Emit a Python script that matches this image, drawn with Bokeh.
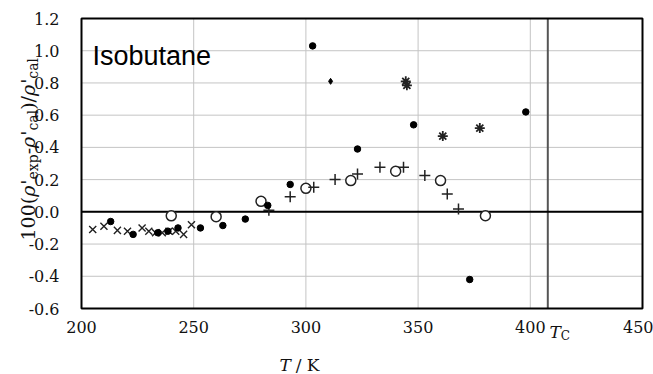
from bokeh.plotting import figure
from bokeh.models import Label, FixedTicker, NumeralTickFormatter, Range1d
from bokeh.embed import file_html
from bokeh.resources import INLINE
import math

# ---- data ----
filled_T = [213, 223, 234, 238.5, 243, 253, 263, 273, 283, 293, 303, 323, 348, 373, 398]
filled_v = [-0.06, -0.14, -0.13, -0.12, -0.10, -0.10, -0.085, -0.045, 0.04, 0.17, 1.03, 0.39, 0.54, -0.42, 0.62]

small_T = [311]
small_v = [0.81]

open_T = [240, 260, 280, 300, 320, 340, 360, 380]
open_v = [-0.025, -0.03, 0.065, 0.146, 0.194, 0.252, 0.194, -0.024]

plus_T = [283.5, 293, 303.5, 313, 323, 333, 343.5, 353, 363, 368]
plus_v = [0.01, 0.094, 0.152, 0.2, 0.235, 0.276, 0.276, 0.225, 0.111, 0.018]

x_T = [205, 210, 216, 220.5, 227, 230, 233, 236, 239, 242, 245.5, 249]
x_v = [-0.11, -0.09, -0.115, -0.12, -0.10, -0.12, -0.13, -0.13, -0.12, -0.12, -0.14, -0.08]

ast_T = [344.5, 345, 361, 377.5]
ast_v = [0.81, 0.785, 0.47, 0.52]

Tc = 407.8
x_ticks = [200, 250, 300, 350, 400, 450]
y_ticks = [-0.6, -0.4, -0.2, 0.0, 0.2, 0.4, 0.6, 0.8, 1.0, 1.2]
X_MIN, X_MAX = 200, 450
Y_MIN, Y_MAX = -0.6, 1.2

SERIF = "DejaVu Serif"
SANS = "Liberation Sans"
FS = 16

# plot box in page pixels
BOX_L, BOX_R, BOX_T, BOX_B = 81, 642, 18, 308
W, H = 653, 374
OFF = 0  # observed canvas offset on the page
PX_X = (BOX_R - BOX_L) / (X_MAX - X_MIN)
PX_Y = (BOX_B - BOX_T) / (Y_MAX - Y_MIN)


def sx(px):
    return X_MIN + (px - BOX_L) / PX_X


def sy(py):
    return Y_MAX - (py - BOX_T) / PX_Y


p = figure(width=W, height=H, output_backend="svg", toolbar_location=None,
           x_range=Range1d(sx(OFF), sx(OFF + W)), y_range=Range1d(sy(OFF + H), sy(OFF)),
           min_border_left=0, min_border_right=0, min_border_top=0, min_border_bottom=0)
p.background_fill_color = "white"
p.border_fill_color = "white"
p.outline_line_color = None
p.xgrid.visible = False
p.ygrid.visible = False

p.xaxis.fixed_location = Y_MIN
p.yaxis.fixed_location = X_MIN
for ax in (p.xaxis, p.yaxis):
    ax.axis_line_color = None
    ax.major_tick_line_color = None
    ax.minor_tick_line_color = None
    ax.major_label_text_font = SERIF
    ax.major_label_text_font_size = f"{FS}px"
    ax.major_label_text_color = "#111111"
p.xaxis.ticker = FixedTicker(ticks=x_ticks)
p.yaxis.ticker = FixedTicker(ticks=y_ticks)
p.yaxis.formatter = NumeralTickFormatter(format="0.0")
p.xaxis.major_label_standoff = 6
p.yaxis.major_label_standoff = 16

GRID = "#c4c4c4"
# grid lines at tick positions, limited to the plot box
p.segment(x0=x_ticks, y0=[Y_MIN] * len(x_ticks), x1=x_ticks, y1=[Y_MAX] * len(x_ticks),
          line_color=GRID, line_width=1)
p.segment(x0=[X_MIN] * len(y_ticks), y0=y_ticks, x1=[X_MAX] * len(y_ticks), y1=y_ticks,
          line_color=GRID, line_width=1)
# critical temperature line and zero line
p.segment(x0=[Tc], y0=[Y_MIN], x1=[Tc], y1=[Y_MAX], line_color="#555555", line_width=2)
p.segment(x0=[X_MIN], y0=[0.0], x1=[X_MAX], y1=[0.0], line_color="black", line_width=2)

# markers
p.scatter(x_T, x_v, marker="x", size=10, line_color="#222222", line_width=1.4)
p.scatter(open_T, open_v, marker="circle", size=10, fill_color="white", line_color="#222222", line_width=1.5)
p.scatter(plus_T, plus_v, marker="cross", size=11, line_color="#222222", line_width=1.5)
p.scatter(ast_T, ast_v, marker="asterisk", size=10, line_color="#222222", line_width=1.8)
p.scatter(filled_T, filled_v, marker="circle", size=6.5, fill_color="black", line_color="black")
p.scatter(small_T, small_v, marker="diamond", size=6, fill_color="black", line_color="black")

# plot box outline
p.quad(left=[X_MIN], right=[X_MAX], bottom=[Y_MIN], top=[Y_MAX], fill_color=None,
       line_color="black", line_width=2)

# Isobutane label
p.add_layout(Label(x=sx(92), y=sy(55), text="Isobutane", text_font=SANS,
                   text_font_size="27px", text_color="black", text_baseline="alphabetic"))


def lab(px, py, text, style="normal", fs=FS, angle=0.0):
    return Label(x=sx(px), y=sy(py), text=text, text_font=SERIF, text_font_style=style,
                 text_font_size=f"{fs}px", angle=angle, text_align="left",
                 text_baseline="alphabetic", text_color="#111111")

# x axis title "T / K"
xt_base = 364
TF = 17
p.add_layout(lab(279, xt_base, "T", "italic", TF))
p.add_layout(lab(279 + 0.95 * TF, xt_base, "/ K", fs=TF))

# Tc label
tc_base = 331
p.add_layout(lab(549, tc_base, "T", "italic", TF))
p.add_layout(lab(549 + 0.66 * TF, tc_base + 4, "C", fs=12))

# y axis title 100(ρ'exp-ρ'cal)/ρ'cal, rotated
YF = 19
SUB = 14
segs = [
    ("100(", "normal", YF, 0, 2.298),
    ("ρ", "italic", YF, 0, 0.64),
    ("'", "normal", YF, 0, 0.275),
    ("exp", "normal", SUB, 5, 1.796),
    ("-", "normal", YF, 0, 0.338),
    ("ρ", "italic", YF, 0, 0.64),
    ("'", "normal", YF, 0, 0.275),
    ("cal", "normal", SUB, 5, 1.476),
    (")/", "normal", YF, 0, 0.727),
    ("ρ", "italic", YF, 0, 0.64),
    ("'", "normal", YF, 0, 0.275),
    ("cal", "normal", SUB, 5, 1.476),
]
base_x = 27
pos = 240
for txt, style, fs, dx, wem in segs:
    p.add_layout(lab(base_x + dx, pos, txt, style, fs, math.pi / 2))
    pos -= wem * fs

open("out.html", "w").write(file_html(p, INLINE))
